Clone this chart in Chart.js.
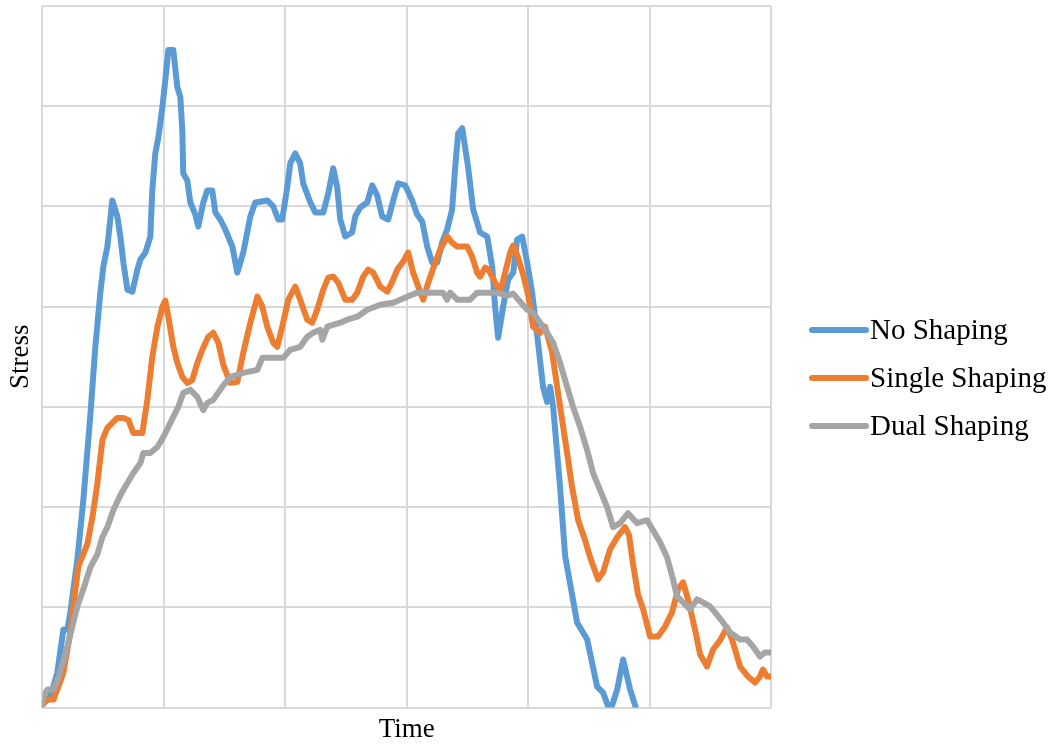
<!DOCTYPE html>
<html>
<head>
<meta charset="utf-8">
<title>Stress over time</title>
<script src="https://cdn.jsdelivr.net/npm/chart.js@4.4.1/dist/chart.umd.min.js"></script>
<style>
  html, body { margin: 0; padding: 0; background: #fff; }
  #wrap { width: 1057px; height: 748px; }
</style>
</head>
<body>
<div id="wrap"><canvas id="stressChart" width="1057" height="748"></canvas></div>
<script>
// series names, in legend order
const seriesNames = ['No Shaping', 'Single Shaping', 'Dual Shaping'];

// [time, stress] samples per series
const noShaping = [
  [0, 0.3], [0.66, 1.1], [1.23, 3.5], [1.73, 7.8], [2.06, 7.8], [2.30, 9.5], [2.88, 14.8], [3.37, 20.7], [3.95, 29.2], [4.36, 36.0],
  [4.77, 41.4], [5.02, 44.0], [5.35, 46.0], [5.76, 50.6], [6.17, 49.0], [6.42, 47.0], [6.67, 44.4], [7.00, 41.7], [7.41, 41.5], [7.82, 43.7],
  [8.07, 44.7], [8.48, 45.4], [8.89, 47.0], [9.05, 51.6], [9.30, 55.3], [9.55, 56.9], [9.88, 59.9], [10.12, 62.6], [10.37, 65.6], [10.78, 65.6],
  [11.11, 61.9], [11.36, 60.9], [11.52, 57.6], [11.60, 53.3], [11.93, 52.6], [12.18, 50.4], [12.59, 49.2], [12.84, 48.0], [13.25, 50.4], [13.58, 51.6],
  [13.99, 51.6], [14.24, 49.4], [14.65, 48.7], [15.06, 47.7], [15.64, 46.0], [16.05, 43.4], [16.54, 45.4], [17.12, 49.0], [17.53, 50.4], [18.52, 50.6],
  [19.01, 50.0], [19.42, 48.7], [19.75, 48.7], [20.16, 51.9], [20.41, 54.3], [20.82, 55.3], [21.23, 54.3], [21.48, 52.3], [22.06, 50.4], [22.47, 49.4],
  [23.13, 49.4], [23.54, 51.3], [23.95, 53.8], [24.28, 51.9], [24.53, 48.7], [24.94, 47.0], [25.51, 47.4], [25.76, 49.0], [26.17, 49.9], [26.75, 50.4],
  [27.16, 52.1], [27.57, 51.1], [27.98, 49.0], [28.48, 48.7], [28.89, 50.6], [29.30, 52.3], [29.88, 52.1], [30.45, 50.6], [30.86, 49.2], [31.28, 48.5],
  [31.69, 46.0], [32.10, 44.4], [32.51, 44.4], [32.92, 46.4], [33.33, 47.7], [33.74, 49.7], [33.99, 53.9], [34.24, 57.3], [34.57, 57.8], [35.06, 53.9],
  [35.47, 49.7], [36.05, 47.4], [36.63, 47.0], [37.04, 44.0], [37.28, 40.0], [37.53, 36.9], [37.94, 40.0], [38.35, 42.7], [38.77, 43.4], [39.09, 46.7],
  [39.51, 47.0], [39.92, 44.4], [40.33, 41.4], [40.74, 37.2], [41.23, 32.0], [41.56, 30.5], [41.81, 32.0], [42.06, 30.0], [42.63, 22.0], [43.05, 15.1],
  [44.03, 8.5], [44.86, 6.8], [45.68, 2.1], [46.17, 1.5], [46.75, -0.4], [47.33, 1.8], [47.82, 4.8], [48.40, 1.8], [48.97, -0.4], [49.40, -1.7]
];

const singleShaping = [
  [0, 0.3], [0.41, 0.8], [0.91, 0.8], [1.32, 2.1], [1.73, 3.5], [2.30, 7.5], [2.72, 11.8], [2.96, 14.1], [3.70, 16.3], [4.12, 19.0],
  [4.53, 22.4], [4.94, 26.7], [5.35, 27.9], [5.76, 28.4], [6.17, 28.9], [6.67, 28.9], [7.08, 28.7], [7.49, 27.4], [8.23, 27.4], [8.64, 30.7],
  [9.05, 35.0], [9.47, 38.0], [9.88, 40.0], [10.12, 40.6], [10.37, 39.0], [10.78, 36.0], [11.11, 34.4], [11.52, 33.0], [11.93, 32.4], [12.35, 32.7],
  [12.76, 34.4], [13.17, 35.7], [13.66, 37.0], [14.07, 37.4], [14.49, 36.4], [14.90, 34.2], [15.47, 32.4], [16.05, 32.5], [16.54, 35.4], [17.12, 38.4],
  [17.70, 41.0], [18.11, 40.0], [18.52, 38.0], [19.01, 36.4], [19.34, 36.0], [19.75, 38.0], [20.25, 40.7], [20.82, 42.0], [21.23, 40.7], [21.81, 38.7],
  [22.22, 38.4], [22.63, 39.7], [23.13, 41.7], [23.54, 42.9], [23.95, 43.0], [24.36, 42.4], [24.94, 40.7], [25.51, 40.7], [25.93, 41.4], [26.42, 43.0],
  [26.83, 43.7], [27.24, 43.4], [27.82, 42.0], [28.40, 41.5], [28.81, 42.5], [29.22, 43.7], [29.71, 44.5], [30.12, 45.4], [30.53, 43.4], [30.95, 42.0],
  [31.36, 40.7], [31.77, 42.4], [32.35, 44.4], [32.76, 45.7], [33.33, 47.0], [33.74, 46.4], [34.16, 46.0], [34.98, 46.0], [35.39, 45.0], [35.80, 43.4],
  [36.05, 43.0], [36.46, 43.9], [36.71, 43.7], [37.04, 43.0], [37.45, 42.0], [37.70, 41.5], [38.11, 43.4], [38.52, 45.4], [38.77, 46.1], [39.09, 45.2],
  [39.59, 43.2], [40.00, 41.2], [40.41, 38.0], [40.99, 37.4], [41.40, 38.0], [41.98, 35.4], [42.39, 32.0], [42.80, 28.7], [43.21, 25.4], [43.62, 22.0],
  [44.12, 18.7], [44.69, 16.7], [45.10, 15.0], [45.76, 12.8], [46.17, 13.5], [46.75, 15.8], [47.33, 17.0], [47.98, 18.0], [48.31, 17.2], [48.64, 14.3],
  [49.05, 11.3], [49.47, 9.8], [50.04, 7.1], [50.70, 7.1], [51.28, 8.1], [51.85, 9.5], [52.35, 11.8], [52.76, 12.5], [53.17, 10.8], [53.74, 7.8],
  [54.16, 5.3], [54.73, 4.1], [55.23, 5.8], [55.80, 6.7], [56.38, 8.0], [56.79, 6.8], [57.45, 4.1], [58.11, 3.1], [58.68, 2.5], [59.09, 3.1],
  [59.34, 3.8], [59.67, 3.1], [60, 3.1]
];

const dualShaping = [
  [0, 0.3], [0.08, 1.1], [0.41, 1.8], [0.91, 1.8], [1.32, 3.0], [1.81, 5.0], [2.30, 7.3], [2.88, 10.1], [3.37, 11.8], [3.95, 14.0],
  [4.53, 15.3], [4.94, 17.0], [5.35, 18.0], [5.84, 19.7], [6.42, 21.2], [7.00, 22.4], [7.49, 23.4], [8.07, 24.4], [8.31, 25.4], [8.89, 25.4],
  [9.47, 26.0], [9.96, 27.0], [10.37, 28.0], [10.78, 29.0], [11.19, 30.0], [11.60, 31.4], [12.18, 31.7], [12.76, 31.0], [13.25, 29.7], [13.58, 30.4],
  [14.07, 30.7], [14.81, 32.0], [15.47, 33.0], [16.54, 33.4], [17.70, 33.7], [18.11, 34.9], [19.84, 34.9], [20.41, 35.7], [21.23, 36.0], [21.81, 37.0],
  [22.30, 37.4], [22.88, 37.7], [23.05, 36.7], [23.46, 38.0], [24.53, 38.4], [25.10, 38.7], [25.93, 39.0], [26.75, 39.7], [27.82, 40.2], [28.89, 40.4],
  [30.04, 41.0], [30.86, 41.4], [33.00, 41.4], [33.33, 40.7], [33.58, 41.4], [34.16, 40.7], [35.23, 40.7], [35.80, 41.4], [37.45, 41.4], [38.27, 41.1],
  [38.77, 41.3], [39.34, 40.5], [39.92, 39.7], [40.41, 39.4], [40.99, 38.4], [41.56, 37.4], [42.06, 36.4], [42.63, 34.4], [43.21, 32.0], [43.70, 30.0],
  [44.28, 28.0], [44.86, 25.7], [45.35, 23.4], [45.93, 21.7], [46.50, 20.0], [47.00, 18.0], [47.57, 18.4], [48.23, 19.4], [48.97, 18.4], [49.79, 18.7],
  [50.29, 17.7], [50.86, 16.5], [51.44, 15.0], [51.93, 12.8], [52.26, 11.1], [52.76, 10.5], [53.33, 9.8], [53.91, 10.8], [54.40, 10.5], [54.98, 10.1],
  [55.39, 9.5], [56.05, 8.5], [56.63, 7.5], [57.45, 6.8], [58.02, 6.8], [58.52, 6.1], [59.09, 5.1], [59.51, 5.5], [60, 5.5]
];

// axis ranges (no tick labels shown, only the grid)
const timeRange = [0, 60, 10];
const stressRange = [0, 70, 10];

const colors = ['#5B9BD5', '#ED7D31', '#A5A5A5'];
const serifFont = '"Liberation Serif", "Times New Roman", serif';

function toPoints(rows) {
  return rows.map(r => ({ x: r[0], y: r[1] }));
}

// legend on the right: short line followed by the name
const sideLegend = {
  id: 'sideLegend',
  afterDraw(chart) {
    const ctx = chart.ctx;
    const rows = [330, 378, 426];
    ctx.save();
    ctx.font = '29px ' + serifFont;
    ctx.textBaseline = 'middle';
    ctx.fillStyle = '#000';
    seriesNames.forEach((name, i) => {
      ctx.strokeStyle = colors[i];
      ctx.lineWidth = 6;
      ctx.lineCap = 'round';
      ctx.beginPath();
      ctx.moveTo(812, rows[i]);
      ctx.lineTo(866, rows[i]);
      ctx.stroke();
      ctx.fillText(name, 870, rows[i] + 1);
    });
    ctx.restore();
  }
};

const datasets = [noShaping, singleShaping, dualShaping].map((rows, i) => ({
  label: seriesNames[i],
  data: toPoints(rows),
  borderColor: colors[i],
  backgroundColor: colors[i],
  borderWidth: 6,
  borderCapStyle: 'round',
  borderJoinStyle: 'round',
  pointRadius: 0,
  tension: 0,
  order: 2 - i // later series drawn on top
}));

new Chart(document.getElementById('stressChart'), {
  type: 'line',
  data: { datasets: datasets },
  options: {
    responsive: false,
    animation: false,
    layout: { padding: { top: 6, right: 286, left: 0, bottom: 0 } },
    scales: {
      x: {
        type: 'linear',
        min: timeRange[0],
        max: timeRange[1],
        ticks: { display: false, stepSize: timeRange[2] },
        grid: { color: '#D9D9D9', lineWidth: 2, drawTicks: false },
        border: { display: false },
        title: {
          display: true,
          text: 'Time',
          color: '#000',
          font: { family: serifFont, size: 27 },
          padding: { top: 6, bottom: 2 }
        }
      },
      y: {
        min: stressRange[0],
        max: stressRange[1],
        ticks: { display: false, stepSize: stressRange[2] },
        grid: { color: '#D9D9D9', lineWidth: 2, drawTicks: false },
        border: { display: false },
        title: {
          display: true,
          text: 'Stress',
          color: '#000',
          font: { family: serifFont, size: 27 },
          padding: { top: 5, bottom: 5 }
        }
      }
    },
    plugins: {
      legend: { display: false },
      tooltip: { enabled: false }
    }
  },
  plugins: [sideLegend]
});
</script>
</body>
</html>
